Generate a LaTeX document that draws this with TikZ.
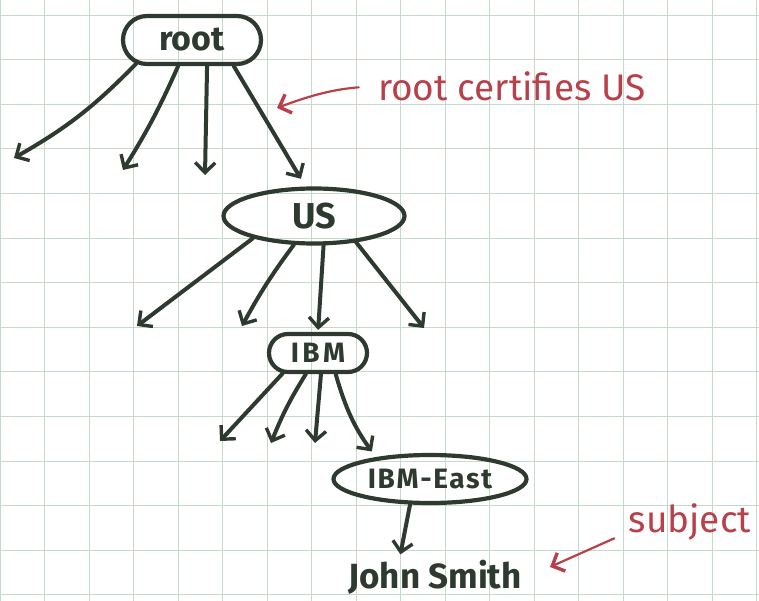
\documentclass[tikz,border=0pt]{standalone}
\usepackage{fontspec}
\setmainfont{Fira Sans}
\usepackage{tikz}
\usetikzlibrary{shapes.geometric,shapes.misc,arrows.meta,positioning}
\definecolor{inkBlack}{HTML}{2E3A2F}
\definecolor{penRed}{HTML}{B8404A}
\definecolor{gridGreen}{HTML}{C6DACB}
\tikzset{
    ca/.style={draw=inkBlack, line width=4.2pt, text=inkBlack, inner sep=0pt},
    link/.style={->, draw=inkBlack, line width=4pt, line cap=round},
    note/.style={->, draw=penRed, line width=2.2pt, line cap=round},
    >={Straight Barb[length=10pt,width=20pt,line width=3.4pt]}
}

\begin{document}
\begin{tikzpicture}[x=1pt, y=-1pt]
    \useasboundingbox (0,0) rectangle (759,601);
    % Grid paper
    \foreach \x in {0,...,17} {
        \draw[gridGreen, line width=0.8pt] (44.5*\x, 0) -- (44.5*\x, 601);
    }
    \foreach \y in {0,...,13} {
        \draw[gridGreen, line width=0.8pt] (0, 15+44.6*\y) -- (759, 15+44.6*\y);
    }
    % Nodes
    \node[ca, rounded rectangle, minimum width=138pt, minimum height=48pt,
          font=\fontsize{34}{34}\selectfont\bfseries] (root) at (192,40) {root};
    \node[ca, ellipse, minimum width=181pt, minimum height=55pt,
          font=\fontsize{36}{36}\selectfont\bfseries] (US) at (314,216) {US};
    \node[ca, rounded rectangle, minimum width=98pt, minimum height=38pt,
          font=\fontsize{28}{28}\selectfont\bfseries\addfontfeatures{LetterSpace=12}] (IBM) at (318,353) {IBM};
    \node[ca, ellipse, minimum width=193pt, minimum height=48pt,
          font=\fontsize{28}{28}\selectfont\bfseries\addfontfeatures{LetterSpace=6}] (east) at (430,479) {IBM-East};
    \node[text=inkBlack, font=\fontsize{35}{35}\selectfont\bfseries] (john) at (435,577) {John Smith};
    \node[text=penRed, font=\fontsize{37}{37}\selectfont] (certnote) at (512,86) {root certifies US};
    \node[text=penRed, font=\fontsize{37}{37}\selectfont] (subjnote) at (690,522) {subject};
    % Loose ends
    \coordinate (r1) at (14,158);
    \coordinate (r2) at (123,170);
    \coordinate (r3) at (205,175);
    \coordinate (u1) at (137,326);
    \coordinate (u2) at (242,326);
    \coordinate (u4) at (424,328);
    \coordinate (i1) at (220,441);
    \coordinate (i2) at (271,443);
    \coordinate (i3) at (315,443);
    \coordinate (certtip) at (277,108);
    \coordinate (subjtip) at (550,567);
    % root
    \draw[link] (root.-157) to[bend left=8] (r1);
    \draw[link] (root.-118) to[bend left=4] (r2);
    \draw[link] (root.-60) -- (r3);
    \draw[link, shorten >=9pt] (root.-32) -- (US.106);
    % US
    \draw[link] (US.-160) -- (u1);
    \draw[link] (US.-125) to[bend right=4] (u2);
    \draw[link, shorten >=2pt] (US.-72) -- (IBM.north);
    \draw[link] (US.-32) -- (u4);
    % IBM
    \draw[link] (IBM.-150) -- (i1);
    \draw[link] (IBM.-120) to[bend right=5] (i2);
    \draw[link] (IBM.-82) -- (i3);
    \draw[link, shorten >=7pt] (IBM.-50) to[bend right=10] (east.158);
    % IBM-East
    \draw[link, shorten >=2pt] (east.-128) -- ([xshift=-35pt]john.north);
    % Remarks
    \draw[note, shorten <=16pt] (certnote.west) to[bend right=8] (certtip);
    \draw[note, shorten <=12pt] (subjnote.-170) -- (subjtip);
\end{tikzpicture}
\end{document}
